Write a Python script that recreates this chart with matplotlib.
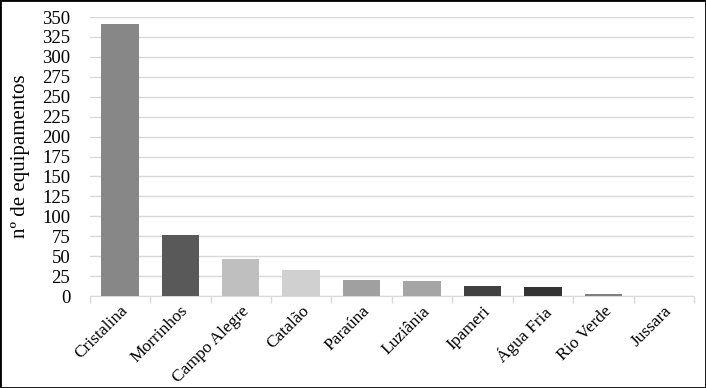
import matplotlib
matplotlib.use("Agg")
import matplotlib.pyplot as plt
from matplotlib.patches import Rectangle
import numpy as np

categories = ["Cristalina", "Morrinhos", "Campo Alegre", "Catalão", "Paraúna",
              "Luziânia", "Ipameri", "Água Fria", "Rio Verde", "Jussara"]
values = [341, 76, 47, 33, 20, 19, 12, 11, 2, 0]
colors = ["#878787", "#595959", "#bfbfbf", "#d0d0d0", "#a0a0a0",
          "#a5a5a5", "#404040", "#333333", "#7f7f7f", "#7f7f7f"]
yticks = list(range(0, 351, 25))

plt.rcParams['font.family'] = ['Liberation Serif', 'DejaVu Serif']

fig = plt.figure(figsize=(7.06, 3.88), dpi=100)
ax = fig.add_axes([0.127, 0.237, 0.856, 0.719])

x = np.arange(len(categories))
ax.bar(x, values, width=0.62, color=colors, zorder=3)

ax.set_xlim(-0.5, len(categories) - 0.5)
ax.set_ylim(0, 350)
ax.set_yticks(yticks)
ax.set_yticklabels([str(t) for t in yticks], fontsize=13.5)
ax.tick_params(axis='y', length=0, pad=14)
ax.grid(axis='y', color='#d9d9d9', linewidth=1, zorder=0)

ax.set_xticks(x)
ax.set_xticklabels(categories, rotation=45, ha='right', rotation_mode='anchor', fontsize=12.5)
ax.tick_params(axis='x', length=0, pad=5)
ax.set_xticks(np.arange(-0.5, len(categories) + 0.5, 1), minor=True)
ax.tick_params(axis='x', which='minor', length=5, color='#d9d9d9', width=1)

for s in ['top', 'right', 'left']:
    ax.spines[s].set_visible(False)
ax.spines['bottom'].set_color('#d9d9d9')

ax.set_ylabel("nº de equipamentos", fontsize=15, labelpad=9)

fig.patches.append(Rectangle((0, 0), 1, 1, transform=fig.transFigure,
                             fill=False, edgecolor='black', linewidth=2))

fig.savefig("out.png", dpi=100)
